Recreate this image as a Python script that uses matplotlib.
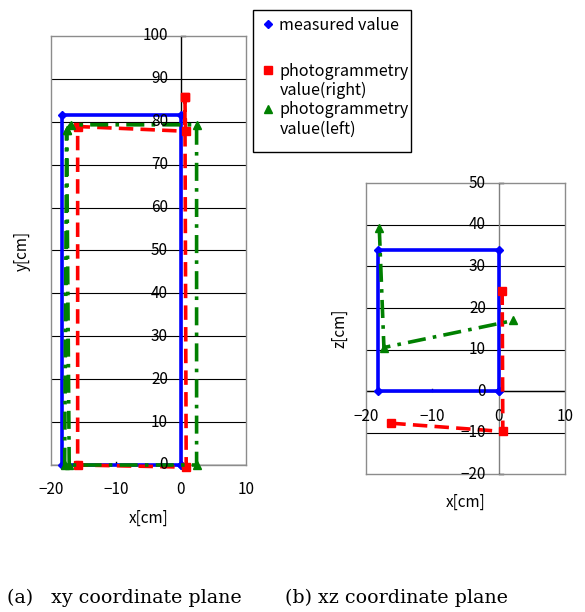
import matplotlib
matplotlib.use("Agg")
import matplotlib.pyplot as plt
import matplotlib.patches as patches
from matplotlib.lines import Line2D
from matplotlib.transforms import offset_copy

plt.rcParams['font.family'] = ['Noto Sans CJK JP', 'DejaVu Sans']

# xy coordinate plane
xy_meas_x = [0, -18.3, -18.3, 0, 0]
xy_meas_y = [0, 0, 81.5, 81.5, 0]
xy_right_x = [0.6, 0.7, -15.9, -15.9, 0.8, 0.6]
xy_right_y = [85.8, 77.8, 78.9, 0, -0.5, 85.8]
xy_left_x = [-17.2, -17.6, -17.0, 2.4, 2.4, -17.9, -17.6]
xy_left_y = [0, 78.0, 79.3, 79.3, 0, 0, 78.0]

# xz coordinate plane
xz_meas_x = [0, -18.2, -18.2, 0, 0]
xz_meas_z = [0, 0, 34.0, 34.0, 0]
xz_right_x = [0.5, 0.6, -16.3]
xz_right_z = [24.2, -9.7, -7.7]
xz_left_x = [-18.0, -17.3, 2.2]
xz_left_z = [39.3, 10.5, 17.0]

x_ticks = [-20, -10, 0, 10]
y_ticks = [0, 10, 20, 30, 40, 50, 60, 70, 80, 90, 100]
z_ticks = [-20, -10, 0, 10, 20, 30, 40, 50]

legend_labels = ['measured value', 'photogrammetry\nvalue(right)', 'photogrammetry\nvalue(left)']

BLUE = '#0000ff'
RED = '#ff0000'
GREEN = '#008000'

fig = plt.figure(figsize=(5.85, 6.12), dpi=100)


def style_axes(ax, xlim, ylim, yticks, ycolor, xlab_at):
    ax.set_xlim(*xlim)
    ax.set_ylim(*ylim)
    ax.set_xticks([])
    ax.set_yticks([])
    for s in ax.spines.values():
        s.set_color('#8c8c8c')
        s.set_linewidth(1.0)
    # horizontal gridlines
    for v in yticks[1:-1]:
        ax.axhline(v, color='black', lw=0.8, zorder=1)
    ax.axvline(0, color=ycolor, lw=1.0, zorder=1)
    ax.axhline(0, color='black', lw=1.0, zorder=1)
    # y tick labels next to the x=0 axis
    tr = offset_copy(ax.transData, fig=fig, x=-13, y=0, units='dots')
    for v in yticks:
        lab = str(v).replace('-', '\u2212')
        ax.text(0, v, lab, transform=tr, ha='right', va='center',
                fontsize=11, zorder=5, clip_on=False)
    # small ticks
    for v in (yticks[0], yticks[-1]):
        ax.plot([0, 0.6], [v, v], color='black', lw=1.0, clip_on=False, zorder=2)
    ax.plot([-10, -10], [0, (ylim[1] - ylim[0]) * 0.008], color='black', lw=1.0, zorder=2)
    # x tick labels
    trx = offset_copy(ax.transData, fig=fig, x=0, y=-25, units='dots')
    for v in x_ticks:
        lab = str(v).replace('-', '\u2212')
        ax.text(v, xlab_at, lab, transform=trx, ha='center', va='center',
                fontsize=11, clip_on=False)


def draw_series(ax, xs, ys, color, ls, marker, ms, dashes=None):
    line, = ax.plot(xs, ys, color=color, ls=ls, lw=2.6, marker=marker, ms=ms,
                    clip_on=False, zorder=3)
    if dashes is not None:
        line.set_dashes(dashes)
    return line


# (a) xy plane
ax1 = fig.add_axes([0.0872, 0.2402, 0.3333, 0.701])
style_axes(ax1, (-20, 10), (0, 100), y_ticks, 'black', 0)
draw_series(ax1, xy_meas_x, xy_meas_y, BLUE, '-', 'D', 4.5)
draw_series(ax1, xy_right_x, xy_right_y, RED, '--', 's', 6, dashes=(4, 2))
draw_series(ax1, xy_left_x, xy_left_y, GREEN, '-.', '^', 6, dashes=(5, 2, 1, 2))
ax1.text(-0.145, 0.5, 'y[cm]', transform=ax1.transAxes, rotation=90,
         ha='center', va='center', fontsize=11)
ax1.text(0.5, -0.125, 'x[cm]', transform=ax1.transAxes, ha='center', va='center',
         fontsize=11)

# (b) xz plane
ax2 = fig.add_axes([0.6256, 0.225, 0.3407, 0.4755])
style_axes(ax2, (-20, 10), (-20, 50), z_ticks, '#808080', 0)
draw_series(ax2, xz_meas_x, xz_meas_z, BLUE, '-', 'D', 4.5)
draw_series(ax2, xz_right_x, xz_right_z, RED, '--', 's', 6, dashes=(4, 2))
draw_series(ax2, xz_left_x, xz_left_z, GREEN, '-.', '^', 6, dashes=(5, 2, 1, 2))
ax2.text(-0.13, 0.5, 'z[cm]', transform=ax2.transAxes, rotation=90,
         ha='center', va='center', fontsize=11)
ax2.text(0.5, -0.095, 'x[cm]', transform=ax2.transAxes, ha='center', va='center',
         fontsize=11)

# legend (markers only, like the spreadsheet legend)
W, H = 585.0, 612.0
box = patches.Rectangle((253.3 / W, 1 - 151.7 / H), (410.7 - 253.3) / W, (151.7 - 10) / H,
                        transform=fig.transFigure, fill=False, edgecolor='black', lw=1.0)
fig.add_artist(box)
leg_markers = [('D', BLUE, 4.5, 24), ('s', RED, 6, 70), ('^', GREEN, 6, 109)]
for (m, c, ms, ypx), lab in zip(leg_markers, legend_labels):
    fig.add_artist(Line2D([267.7 / W], [1 - ypx / H], marker=m, color=c, ms=ms,
                          ls='none', transform=fig.transFigure))
    for k, part in enumerate(lab.split('\n')):
        fig.text(279.3 / W, 1 - (ypx + 1 + 19 * k) / H, part, ha='left',
                 va='center', fontsize=11.6)

# captions
fig.text(7 / W, 1 - 598 / H, '(a)   xy coordinate plane', family='DejaVu Serif',
         fontsize=13.7, ha='left', va='center')
fig.text(285 / W, 1 - 598 / H, '(b) xz coordinate plane', family='DejaVu Serif',
         fontsize=13.7, ha='left', va='center')

fig.savefig('out.png', dpi=100)
